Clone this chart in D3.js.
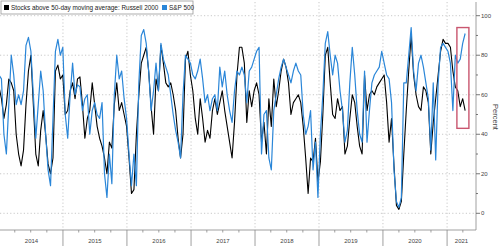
<!DOCTYPE html>
<head>
    <title>Stocks above 50-day moving average</title>
    <style>
        body{ margin: 0; background: white; }
        svg{ display: block; font-family: "Liberation Sans", Arial, sans-serif; }
    </style>
    <script src="https://d3js.org/d3.v7.min.js"></script>
</head>
<body>
    <svg width="500" height="246"></svg>

    <script>
        // bi-weekly readings, starting first week of 2014
        var startDate = new Date(2014, 0, 1);
        var stepDays = 14;

        var russell = [
            64,58,48,55,68,66,62,40,30,24,32,55,72,80,55,30,24,42,52,40,25,20,28,72,75,68,70,50,52,62,66,58,68,
            69,55,38,48,52,66,55,44,38,34,28,20,36,33,55,66,52,56,50,44,28,10,12,40,60,76,80,84,72,54,40,68,62,
            85,76,66,64,66,60,52,38,28,40,78,82,70,62,48,40,58,48,36,42,38,52,58,50,56,62,52,44,36,28,46,70,84,
            84,76,46,62,54,62,66,60,36,46,30,58,44,68,54,62,72,78,74,66,50,56,58,60,56,44,28,10,28,26,38,16,26,
            50,80,84,66,50,48,58,52,54,30,34,48,60,56,44,34,30,70,52,60,62,60,64,66,68,70,56,36,48,24,4,2,6,
            30,52,72,90,70,60,54,52,64,62,56,30,46,58,70,82,88,86,86,84,72,64,62,54,58,52
        ];
        var sp500 = [
            70,68,40,30,55,80,70,55,60,55,62,85,89,82,60,38,55,72,62,40,22,14,48,82,88,80,84,50,38,60,76,60,65,
            64,52,58,60,40,52,56,50,48,56,20,8,30,15,60,80,68,72,58,48,30,14,30,14,66,90,93,86,72,52,62,76,62,
            86,78,74,70,60,50,42,36,28,60,80,78,76,70,68,72,78,68,56,60,52,58,60,52,74,64,72,60,52,46,62,72,70,
            74,70,56,72,74,78,82,84,30,50,52,28,22,52,60,68,74,78,74,70,66,72,76,72,70,50,40,44,52,22,36,8,40,
            60,86,92,80,70,80,76,62,52,36,42,66,84,70,52,40,36,72,36,52,66,70,72,74,82,76,70,68,56,22,6,3,8,
            66,66,80,94,72,62,76,80,74,66,58,32,66,27,66,84,86,84,82,76,52,80,76,78,86,91
        ];
        var years = [2014, 2015, 2016, 2017, 2018, 2019, 2020, 2021];
        var yTicks = [0, 20, 40, 60, 80, 100];
        var legendLabels = ["Stocks above 50-day moving average: Russell 2000", "S&P 500"];

        var dates = russell.map((d, i) => d3.timeDay.offset(startDate, i * stepDays));

        var svg = d3.select('svg');
        var plotRight = 476, plotBottom = 230;

        var x = d3.scaleTime()
            .domain([new Date(2014, 0, 1), new Date(2021, 5, 15)])
            .range([-1, plotRight]);
        var y = d3.scaleLinear().domain([0, 100]).range([213.3, 15.7]);

        // dotted gridlines
        svg.append("g").selectAll("line").data(yTicks).join("line")
            .attr("x1", 0).attr("x2", plotRight)
            .attr("y1", d => y(d)).attr("y2", d => y(d))
            .attr("stroke", "#bbb").attr("stroke-width", 0.8)
            .attr("stroke-dasharray", "1.2,2.2");
        svg.append("g").selectAll("line").data(years.slice(1)).join("line")
            .attr("x1", d => x(new Date(d, 0, 1))).attr("x2", d => x(new Date(d, 0, 1)))
            .attr("y1", 2).attr("y2", plotBottom)
            .attr("stroke", "#bbb").attr("stroke-width", 0.8)
            .attr("stroke-dasharray", "1.2,2.2");

        // lines
        var line = d3.line().x((d, i) => x(dates[i])).y(d => y(d));
        svg.append("path").datum(russell)
            .attr("fill", "none").attr("stroke", "#000").attr("stroke-width", 1.1)
            .attr("stroke-linejoin", "round").attr("d", line);
        svg.append("path").datum(sp500)
            .attr("fill", "none").attr("stroke", "#2a86d8").attr("stroke-width", 1.2)
            .attr("stroke-linejoin", "round").attr("d", line);

        // highlight box
        svg.append("rect")
            .attr("x", x(new Date(2021, 1, 26))).attr("y", y(94))
            .attr("width", 12).attr("height", y(43) - y(94))
            .attr("fill", "none").attr("stroke", "#c9566f").attr("stroke-width", 1.4);

        // right axis
        svg.append("line").attr("x1", plotRight).attr("x2", plotRight)
            .attr("y1", 2).attr("y2", plotBottom).attr("stroke", "#888").attr("stroke-width", 0.8);
        svg.append("g").selectAll("line").data(d3.range(0, 101, 10)).join("line")
            .attr("x1", plotRight).attr("x2", d => plotRight + (d % 20 == 0 ? 4 : 2))
            .attr("y1", d => y(d)).attr("y2", d => y(d))
            .attr("stroke", "#555").attr("stroke-width", 0.8);
        svg.append("g").selectAll("text").data(yTicks).join("text")
            .attr("x", plotRight + 5).attr("y", d => y(d) + 2)
            .attr("font-size", 6).attr("fill", "#444")
            .text(d => d);
        svg.append("text")
            .attr("transform", "translate(493,117) rotate(90)")
            .attr("text-anchor", "middle").attr("font-size", 7.5).attr("fill", "#444")
            .text("Percent");

        // bottom axis
        svg.append("line").attr("x1", 0).attr("x2", plotRight)
            .attr("y1", plotBottom).attr("y2", plotBottom).attr("stroke", "#888").attr("stroke-width", 0.8);
        svg.append("g").selectAll("line").data(d3.timeMonth.every(3).range(new Date(2014, 3, 1), new Date(2021, 5, 1))).join("line")
            .attr("x1", d => x(d)).attr("x2", d => x(d))
            .attr("y1", plotBottom).attr("y2", d => d.getMonth() == 0 ? 246 : plotBottom + 2.5)
            .attr("stroke", "#888").attr("stroke-width", 0.8);
        svg.append("g").selectAll("text").data(years).join("text")
            .attr("x", d => (Math.max(0, x(new Date(d, 0, 1))) + Math.min(plotRight, x(new Date(d + 1, 0, 1)))) / 2)
            .attr("y", 243)
            .attr("text-anchor", "middle").attr("font-size", 6).attr("fill", "#444")
            .text(d => d);

        // legend
        var legend = svg.append("g");
        legend.append("rect").attr("x", 1).attr("y", 1).attr("width", 192).attr("height", 13)
            .attr("fill", "white").attr("stroke", "#999").attr("stroke-width", 0.8);
        legend.append("rect").attr("x", 4).attr("y", 5).attr("width", 5).attr("height", 5).attr("fill", "#000");
        legend.append("text").attr("x", 11).attr("y", 10).attr("font-size", 6.4).attr("fill", "#222")
            .text(legendLabels[0]);
        legend.append("rect").attr("x", 162).attr("y", 5).attr("width", 5).attr("height", 5).attr("fill", "#2a86d8");
        legend.append("text").attr("x", 169).attr("y", 10).attr("font-size", 6.4).attr("fill", "#222")
            .text(legendLabels[1]);
    </script>
</body>
</html>
